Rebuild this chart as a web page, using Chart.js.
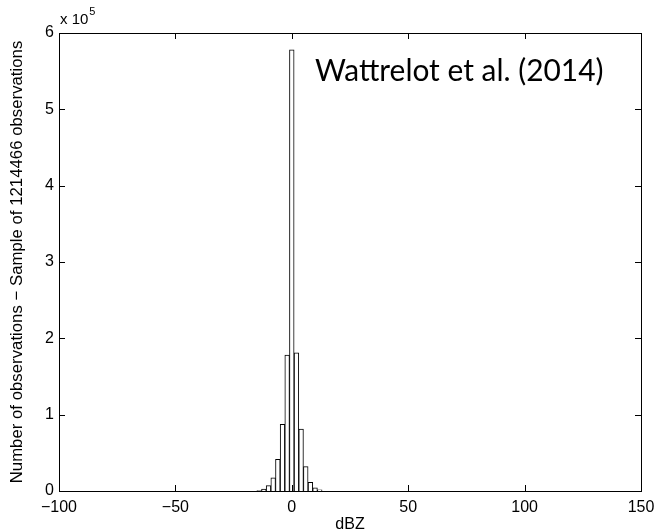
<!DOCTYPE html>
<html>
<head>
<meta charset="UTF-8">
<title>dBZ histogram</title>
<script src="https://cdn.jsdelivr.net/npm/chart.js"></script>
<style>
  html, body { margin: 0; padding: 0; background: #fff; }
  #wrap { width: 654px; height: 532px; }
</style>
</head>
<body>
<div id="wrap"><canvas id="hist" width="654" height="532"></canvas></div>
<script>
// bin centres (dBZ) and counts
const binCentres = [-14, -12, -10, -8, -6, -4, -2, 0, 2, 4, 6, 8, 10, 12];
const binCounts = [500, 2500, 7000, 17400, 41500, 87400, 178000, 578000, 181000, 81000, 32000, 11400, 4300, 1500];
const xTicks = [-100, -50, 0, 50, 100, 150];
const yTicks = [0, 1, 2, 3, 4, 5, 6];
const yScaleFactor = 1e5;

const FONT = "'Liberation Sans', Arial, sans-serif";

// box round the axes, inward ticks, x 10^5 and the citation
const matlabBox = {
  id: 'matlabBox',
  afterDraw(chart) {
    const ctx = chart.ctx;
    const a = chart.chartArea;
    const xs = chart.scales.x, ys = chart.scales.y;
    const tl = 6;
    ctx.save();
    ctx.strokeStyle = '#000';
    ctx.lineWidth = 1;
    ctx.strokeRect(Math.round(a.left) + 0.5, Math.round(a.top) + 0.5,
      Math.round(a.right - a.left), Math.round(a.bottom - a.top));
    ctx.beginPath();
    xTicks.forEach(v => {
      const px = Math.round(xs.getPixelForValue(v)) + 0.5;
      ctx.moveTo(px, a.bottom); ctx.lineTo(px, a.bottom - tl);
      ctx.moveTo(px, a.top); ctx.lineTo(px, a.top + tl);
    });
    yTicks.forEach(v => {
      const py = Math.round(ys.getPixelForValue(v * yScaleFactor)) + 0.5;
      ctx.moveTo(a.left, py); ctx.lineTo(a.left + tl, py);
      ctx.moveTo(a.right, py); ctx.lineTo(a.right - tl, py);
    });
    ctx.stroke();

    // exponent label
    ctx.fillStyle = '#000';
    ctx.textBaseline = 'middle';
    ctx.textAlign = 'left';
    ctx.font = '15px ' + FONT;
    ctx.fillText('x 10', a.left + 1, 20);
    const w = ctx.measureText('x 10').width;
    ctx.font = '11px ' + FONT;
    ctx.fillText('5', a.left + 2 + w, 12);

    // citation
    const txt = 'Wattrelot et al. (2014)';
    let size = 31;
    ctx.font = size + "px Lato, 'Open Sans', sans-serif";
    const mw = ctx.measureText(txt).width;
    size = size * 289 / mw;
    ctx.font = size.toFixed(1) + "px Lato, 'Open Sans', sans-serif";
    ctx.textBaseline = 'alphabetic';
    ctx.fillText(txt, 315, 81);
    ctx.restore();
  }
};

new Chart(document.getElementById('hist').getContext('2d'), {
  type: 'bar',
  data: {
    datasets: [{
      data: binCentres.map((c, i) => ({ x: c, y: binCounts[i] })),
      backgroundColor: '#fff',
      borderColor: '#000',
      borderWidth: 1,
      barPercentage: 1.0,
      categoryPercentage: 1.0
    }]
  },
  options: {
    responsive: false,
    animation: false,
    events: [],
    layout: { padding: { top: 33, right: 13, left: 0, bottom: 0 } },
    plugins: { legend: { display: false }, tooltip: { enabled: false } },
    scales: {
      x: {
        type: 'linear',
        offset: false,
        min: -100, max: 150,
        afterBuildTicks: s => { s.ticks = xTicks.map(v => ({ value: v })); },
        afterFit: s => { s.height = 41; s.paddingLeft = 0; s.paddingRight = 0; },
        grid: { display: false, drawTicks: false, offset: false },
        border: { display: true, color: '#000' },
        ticks: {
          color: '#000',
          padding: 7,
          maxRotation: 0,
          font: { family: FONT, size: 16 },
          callback: v => String(v).replace('-', '\u2212')
        },
        title: {
          display: true,
          text: 'dBZ',
          color: '#000',
          font: { family: FONT, size: 16, lineHeight: 1.0 },
          padding: { top: 0, bottom: -1 }
        }
      },
      y: {
        min: 0, max: 6 * yScaleFactor,
        afterBuildTicks: s => { s.ticks = yTicks.map(v => ({ value: v * yScaleFactor })); },
        afterFit: s => { s.width = 59; },
        grid: { display: false, drawTicks: false },
        border: { display: true, color: '#000' },
        ticks: {
          color: '#000',
          padding: 5,
          font: { family: FONT, size: 16 },
          callback: v => String(v / yScaleFactor)
        },
        title: {
          display: true,
          text: 'Number of observations \u2212 Sample of 1214466 observations',
          color: '#000',
          font: { family: FONT, size: 16.8 },
          padding: { top: 7, bottom: 0 }
        }
      }
    }
  },
  plugins: [matlabBox]
});
</script>
</body>
</html>
